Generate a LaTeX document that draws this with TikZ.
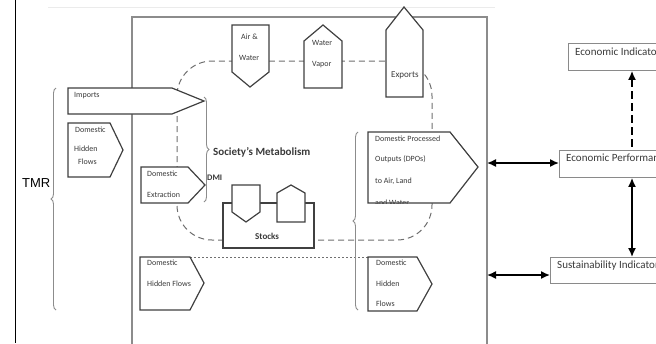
\documentclass[tikz,border=0pt]{standalone}
\usepackage{fontspec}
\setmainfont{Carlito}
\newfontfamily\arialfont{Liberation Sans}
\usetikzlibrary{arrows.meta,decorations.pathreplacing}
\definecolor{shapeline}{HTML}{404040}
\definecolor{frameline}{HTML}{8C8C8C}
\definecolor{dashline}{HTML}{707070}
\definecolor{txt}{HTML}{3A3A3A}
\definecolor{boxline}{HTML}{8A8A8A}
\begin{document}
\begin{tikzpicture}[x=1pt,y=-1pt,
  flow/.style={draw=shapeline, line width=1.2pt, fill=white, line join=miter},
  lbl/.style={anchor=base west, inner sep=0pt, text=txt, font=\fontsize{8}{9}\selectfont},
  blbl/.style={anchor=base west, inner sep=0pt, text=txt, font=\bfseries\fontsize{9}{10}\selectfont},
  rlbl/.style={anchor=base west, inner sep=0pt, text=txt, font=\fontsize{11}{12}\selectfont},
  ibox/.style={draw=boxline, line width=0.9pt, fill=white, anchor=north west, minimum width=130pt, minimum height=27pt, inner sep=0pt},
  conn/.style={draw=black, line width=1.5pt, {Latex[length=9pt,width=8pt]}-{Latex[length=9pt,width=8pt]}},
  boundary/.style={draw=dashline, line width=1pt, dash pattern=on 6pt off 4pt},
  curly/.style={draw=frameline, line width=0.9pt, decorate, decoration={brace, amplitude=5pt}}
]
\useasboundingbox (0,0) rectangle (656,343);
\clip (0,0) rectangle (656,343);
\fill[white] (0,0) rectangle (656,343);

% left black line and faint top line
\draw[black, line width=1pt] (15,0) -- (15,343);
\draw[black!8, line width=1pt] (48,7) -- (495,7);

% main frame
\draw[frameline, line width=1.2pt] (132,350) -- (132,17) -- (487,17) -- (487,350);
\coordinate (fr) at (487,163);
\coordinate (sr) at (487,275);

% society boundary
\draw[boundary, rounded corners=35pt] (177,61) rectangle (432,240);
\draw[dashline, line width=0.9pt, dash pattern=on 2pt off 2pt] (190,257) -- (368,257);

% braces
\draw[curly] (56,310) -- (56,88);
\draw[curly] (204,97) -- (204,202);
\draw[curly] (358,310) -- (358,132);

% flows
\draw[flow] (68,88) -- (172,88) -- (204,101) -- (172,114) -- (68,114) -- cycle;
\draw[flow] (68,123) -- (110,123) -- (123,150) -- (110,177) -- (68,177) -- cycle;
\draw[flow] (141,167) -- (188,167) -- (205,185) -- (188,203) -- (141,203) -- cycle;
\draw[flow] (140,257) -- (190,257) -- (204,283) -- (190,310) -- (140,310) -- cycle;
\draw[flow] (368,132) -- (450,132) -- (478,167) -- (450,203) -- (368,203) -- cycle;
\draw[flow] (368,257) -- (417,257) -- (432,284) -- (417,311) -- (368,311) -- cycle;
\draw[flow] (232,25) -- (269,25) -- (269,72) -- (250,87) -- (232,72) -- cycle;
\draw[flow] (304,41) -- (323,25) -- (342,41) -- (342,88) -- (304,88) -- cycle;
\draw[flow] (386,30) -- (404,7) -- (423,30) -- (423,97) -- (386,97) -- cycle;
\draw[flow] (223,203) rectangle (314,248);
\draw[flow] (232,185) -- (260,185) -- (260,212) -- (246,222) -- (232,212) -- cycle;
\draw[flow] (277,193) -- (291,185) -- (305,193) -- (305,222) -- (277,222) -- cycle;

% texts
\node[lbl] (imp) at (74,97.7) {Imports};
\node[lbl] (dhfa) at (75,132.7) {Domestic};
\node[lbl] (dhfb) at (74,151.7) {Hidden};
\node[lbl] (dhfc) at (78,164.7) {Flows};
\node[lbl] (awa) at (241,39.7) {Air \&};
\node[lbl] (awb) at (239,60.7) {Water};
\node[lbl] (wva) at (312,45.7) {Water};
\node[lbl] (wvb) at (312,66.7) {Vapor};
\node[lbl, font=\fontsize{9}{10}\selectfont] (exp) at (391,77) {Exports};
\node[blbl, font=\bfseries\fontsize{11}{12}\selectfont] (sm) at (213,155.5) {Society’s Metabolism};
\node[blbl, font=\bfseries\fontsize{8.5}{9}\selectfont] (dmi) at (207,180) {DMI};
\node[lbl] (dea) at (147,176.7) {Domestic};
\node[lbl] (deb) at (147,197.7) {Extraction};
\node[blbl] (stk) at (255,239) {Stocks};
\node[lbl] (dpoa) at (375,141.7) {Domestic Processed};
\node[lbl] (dpob) at (375,161.7) {Outputs (DPOs)};
\node[lbl] (dpoc) at (375,183.7) {to Air, Land};
\begin{scope}
  \clip (368,132) -- (450,132) -- (478,167) -- (450,203) -- (368,203) -- cycle;
  \node[lbl] (dpod) at (375,205) {and Water};
\end{scope}
\node[lbl] (dhfra) at (376,265.7) {Domestic};
\node[lbl] (dhfrb) at (376,286.7) {Hidden};
\node[lbl] (dhfrc) at (376,306.7) {Flows};
\node[lbl] (dhfla) at (147,265.7) {Domestic};
\node[lbl] (dhflb) at (147,286.7) {Hidden Flows};
\node[anchor=base west, inner sep=0pt, font=\arialfont\fontsize{13}{14}\selectfont] (tmr) at (22,187) {TMR};

% indicator boxes
\node[ibox] (ei) at (568,43) {};
\node[ibox] (ep) at (559,150) {};
\node[ibox, minimum height=26pt] (si) at (550,257) {};
\node[rlbl] (eit) at (575,55.5) {Economic Indicators};
\node[rlbl] (ept) at (566,161.5) {Economic Performance};
\node[rlbl] (sit) at (557,268.5) {Sustainability Indicators};

% connectors
\coordinate (ax) at (632,0);
\draw[conn, {Latex[length=9pt,width=8pt]}-, dash pattern=on 8pt off 4pt] (ei.south -| ax) -- (ep.north -| ax);
\draw[conn] (ep.south -| ax) -- (si.north -| ax);
\draw[conn] (fr) -- (fr -| ep.west);
\draw[conn] (sr) -- (sr -| si.west);
\end{tikzpicture}
\end{document}
